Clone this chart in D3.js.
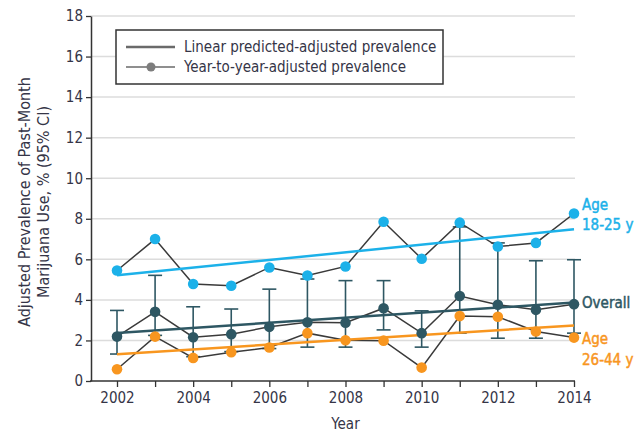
<!DOCTYPE html>
<html>
<head>
<meta charset="utf-8">
<script src="https://cdn.jsdelivr.net/npm/d3@7"></script>
<style>
  html, body { margin: 0; padding: 0; background: #fff; }
  svg { display: block; }
  text { font-family: "Liberation Sans Narrow", "DejaVu Sans Condensed", "Arial Narrow", sans-serif; }
</style>
</head>
<body>
<svg id="chart" width="636" height="433"></svg>
<script>
// Survey years
const years = [2002, 2003, 2004, 2005, 2006, 2007, 2008, 2009, 2010, 2011, 2012, 2013, 2014];

// Year-to-year adjusted prevalence (%)
const age18to25 = [5.45, 7.0, 4.78, 4.70, 5.6, 5.2, 5.65, 7.85, 6.03, 7.81, 6.63, 6.81, 8.26];
const overall   = [2.19, 3.41, 2.16, 2.31, 2.67, 2.9, 2.87, 3.59, 2.36, 4.19, 3.76, 3.51, 3.79];
const age26to44 = [0.58, 2.19, 1.14, 1.42, 1.65, 2.36, 2.01, 1.99, 0.66, 3.2, 3.17, 2.44, 2.14];

// 95% CI for the overall estimate
const overallLower = [1.33, 2.25, 1.2, 1.45, 1.6, 1.67, 1.67, 2.52, 1.67, 2.36, 2.11, 2.11, 2.36];
const overallUpper = [3.48, 5.21, 3.66, 3.55, 4.53, 5.03, 4.95, 4.95, 3.46, 7.6, 6.81, 5.93, 5.98];

// Linear predicted-adjusted prevalence (start and end of each fitted line)
const trendYears  = [2002, 2014];
const trend18to25 = [5.21, 7.48];
const trendOverall = [2.37, 3.87];
const trend26to44 = [1.32, 2.74];

const yTicks = [0, 2, 4, 6, 8, 10, 12, 14, 16, 18];
const xTickLabels = [2002, 2004, 2006, 2008, 2010, 2012, 2014];

const colBlue = "#1cb1e9";
const colOrange = "#f8961f";
const colTeal = "#2e5763";
const colLine = "#3a3a3a";
const colText = "#353547";
const fontStack = "'Liberation Sans Narrow','DejaVu Sans Condensed',sans-serif";

const svg = d3.select("#chart");
const axisX0 = 91;

const x = d3.scaleLinear().domain([2002, 2014]).range([117, 574]);
const y = d3.scaleLinear().domain([0, 18]).range([381, 16]);

// Horizontal gridlines
svg.append("g").selectAll("line").data(yTicks.slice(1)).join("line")
  .attr("x1", axisX0).attr("x2", 575)
  .attr("y1", d => y(d)).attr("y2", d => y(d))
  .attr("stroke", "#dcdcdc").attr("stroke-width", 1.5);

// Y axis
const yAxis = svg.append("g").attr("transform", `translate(${axisX0},0)`)
  .call(d3.axisLeft(y).tickValues(yTicks).tickSize(5).tickSizeOuter(0).tickPadding(3));
yAxis.select(".domain").attr("stroke", "#333").attr("stroke-width", 1.5);
yAxis.selectAll(".tick line").attr("stroke", "#333").attr("stroke-width", 1.3);
yAxis.selectAll(".tick text").attr("font-size", 15).attr("fill", colText)
  .style("font-family", fontStack);

// X axis
const xAxis = svg.append("g").attr("transform", `translate(0,${y(0)})`)
  .call(d3.axisBottom(x).tickValues(years).tickSize(6).tickSizeOuter(0).tickPadding(5)
    .tickFormat(d => xTickLabels.includes(d) ? String(d) : ""));
xAxis.select(".domain").remove();
xAxis.append("line").attr("x1", axisX0 - 1).attr("x2", x(2014) + 1)
  .attr("y1", 0).attr("y2", 0).attr("stroke", "#333").attr("stroke-width", 1.5);
xAxis.selectAll(".tick line").attr("stroke", "#333").attr("stroke-width", 1.3);
xAxis.selectAll(".tick text").attr("font-size", 15).attr("fill", colText)
  .style("font-family", fontStack);

// Axis titles
svg.append("text").attr("x", x(2008)).attr("y", 429).attr("text-anchor", "middle")
  .attr("font-size", 15).attr("fill", colText).text("Year");
const yTitle = svg.append("text").attr("transform", "translate(30,202) rotate(-90)")
  .attr("text-anchor", "middle").attr("font-size", 16).attr("fill", colText);
yTitle.append("tspan").attr("x", 0).attr("dy", 0).text("Adjusted Prevalence of Past-Month");
yTitle.append("tspan").attr("x", 0).attr("dy", 19).text("Marijuana Use, % (95% CI)");

// Error bars for the overall estimate
const errG = svg.append("g").attr("stroke", colTeal).attr("stroke-width", 1.6);
years.forEach((yr, i) => {
  errG.append("line").attr("x1", x(yr)).attr("x2", x(yr))
    .attr("y1", y(overallLower[i])).attr("y2", y(overallUpper[i]));
  [overallLower[i], overallUpper[i]].forEach(v => {
    errG.append("line").attr("x1", x(yr) - 7).attr("x2", x(yr) + 7)
      .attr("y1", y(v)).attr("y2", y(v));
  });
});

// Year-to-year connecting lines
const line = d3.line().x((d, i) => x(years[i])).y(d => y(d));
[age18to25, overall, age26to44].forEach(series => {
  svg.append("path").datum(series).attr("d", line)
    .attr("fill", "none").attr("stroke", colLine).attr("stroke-width", 1.5);
});

// Linear trend lines
const tLine = d3.line().x((d, i) => x(trendYears[i])).y(d => y(d));
[[trend18to25, colBlue], [trendOverall, colTeal], [trend26to44, colOrange]].forEach(([s, c]) => {
  svg.append("path").datum(s).attr("d", tLine)
    .attr("fill", "none").attr("stroke", c).attr("stroke-width", 2.5);
});

// Points
[[age18to25, colBlue], [overall, colTeal], [age26to44, colOrange]].forEach(([s, c]) => {
  svg.append("g").selectAll("circle").data(s).join("circle")
    .attr("cx", (d, i) => x(years[i])).attr("cy", d => y(d))
    .attr("r", 5.3).attr("fill", c);
});

// Series labels (medium weight: regular face with a thin outline)
const lblX = 582;
const lab = (t, yy, c) => svg.append("text").attr("x", lblX).attr("y", yy)
  .attr("font-size", 15).attr("fill", c)
  .attr("stroke", c).attr("stroke-width", 0.45).text(t);
lab("Age", 210, colBlue);
lab("18-25 y", 230, colBlue);
lab("Overall", 308, colTeal);
lab("Age", 344, colOrange);
lab("26-44 y", 365, colOrange);

// Legend
const lg = svg.append("g");
lg.append("rect").attr("x", 116).attr("y", 30).attr("width", 327).attr("height", 54)
  .attr("fill", "#fff").attr("stroke", "#333").attr("stroke-width", 1.5);
lg.append("line").attr("x1", 126).attr("x2", 175).attr("y1", 47).attr("y2", 47)
  .attr("stroke", "#6a6a6a").attr("stroke-width", 2.6);
lg.append("line").attr("x1", 126).attr("x2", 175).attr("y1", 67).attr("y2", 67)
  .attr("stroke", "#6a6a6a").attr("stroke-width", 1.3);
lg.append("circle").attr("cx", 151).attr("cy", 67).attr("r", 4.5).attr("fill", "#7d7d7d");
lg.append("text").attr("x", 184).attr("y", 52).attr("font-size", 15).attr("fill", colText)
  .text("Linear predicted-adjusted prevalence");
lg.append("text").attr("x", 184).attr("y", 72).attr("font-size", 15).attr("fill", colText)
  .text("Year-to-year-adjusted prevalence");
</script>
</body>
</html>
